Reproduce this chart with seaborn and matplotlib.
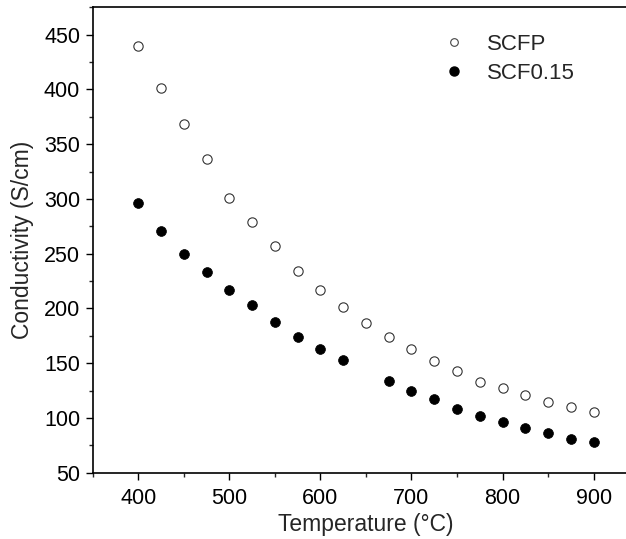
import matplotlib
matplotlib.use("Agg")
import matplotlib.pyplot as plt
import seaborn as sns
import pandas as pd
from matplotlib.ticker import MultipleLocator
from matplotlib.lines import Line2D

temps_scfp = [400, 425, 450, 475, 500, 525, 550, 575, 600, 625, 650, 675, 700,
              725, 750, 775, 800, 825, 850, 875, 900]
cond_scfp = [440, 401, 368, 336, 301, 279, 257, 234, 217, 201, 187, 174, 163,
             152, 143, 133, 127, 121, 115, 110, 105]

temps_scf = [400, 425, 450, 475, 500, 525, 550, 575, 600, 625, 675, 700,
             725, 750, 775, 800, 825, 850, 875, 900]
cond_scf = [296, 271, 250, 233, 217, 203, 188, 174, 163, 153, 134, 125,
            117, 108, 102, 96, 91, 86, 81, 78]

labels = ["SCFP", "SCF0.15"]
xlabel = "Temperature (\u00b0C)"
ylabel = "Conductivity (S/cm)"

sns.set_style("ticks")
plt.rcParams['font.family'] = ['Liberation Sans', 'DejaVu Sans']

df_scfp = pd.DataFrame({"T": temps_scfp, "C": cond_scfp})
df_scf = pd.DataFrame({"T": temps_scf, "C": cond_scf})

fig = plt.figure(figsize=(6.26, 5.39), dpi=100)
ax = fig.add_axes([0.148, 0.123, 0.873, 0.8635])

sns.scatterplot(data=df_scfp, x="T", y="C", ax=ax, marker="o", s=45,
                facecolor="white", edgecolor="#333333", linewidth=0.8, zorder=3)
sns.scatterplot(data=df_scf, x="T", y="C", ax=ax, marker="o", s=50,
                color="black", edgecolor="black", linewidth=0.5, zorder=3)

ax.set_xlim(350, 950)
ax.set_ylim(50, 475)
ax.xaxis.set_major_locator(MultipleLocator(100))
ax.xaxis.set_minor_locator(MultipleLocator(50))
ax.yaxis.set_major_locator(MultipleLocator(50))
ax.yaxis.set_minor_locator(MultipleLocator(25))
ax.tick_params(axis='both', which='major', direction='out', length=5, width=1.0,
               labelsize=15.5, colors='black', pad=4)
ax.tick_params(axis='x', which='major', pad=6)
ax.tick_params(axis='both', which='minor', direction='out', length=3, width=1.0)
for sp in ax.spines.values():
    sp.set_linewidth(1.2)
    sp.set_color('black')
    sp.set_visible(True)

ax.set_xlabel(xlabel, fontsize=16.5, labelpad=3)
ax.set_ylabel(ylabel, fontsize=16.5, labelpad=7)

handles = [
    Line2D([], [], marker='o', linestyle='none', markersize=5.5,
           markerfacecolor='white', markeredgecolor='#444444', markeredgewidth=0.8),
    Line2D([], [], marker='o', linestyle='none', markersize=6.5,
           markerfacecolor='black', markeredgecolor='black'),
]
ax.legend(handles, labels, loc='upper left', bbox_to_anchor=(0.624, 0.962),
          frameon=False, fontsize=16, handletextpad=1.0, labelspacing=0.35,
          handlelength=1.0, borderaxespad=0)

fig.savefig("out.png", dpi=100)
